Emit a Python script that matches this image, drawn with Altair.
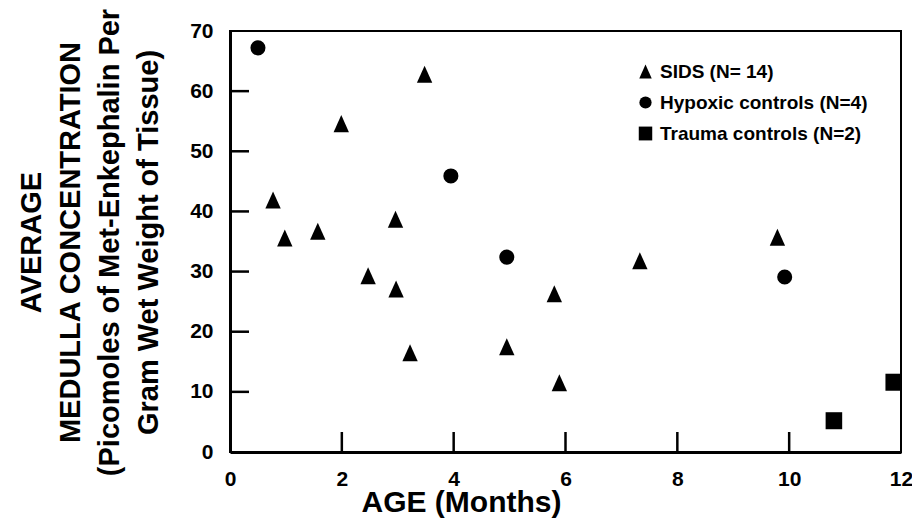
import altair as alt
import pandas as pd

# ---- data ----
sids_age = [0.77, 0.98, 1.57, 1.99, 2.47, 2.96, 2.97, 3.22, 3.48, 4.95, 5.80, 5.89, 7.33, 9.79]
sids_val = [41.9, 35.6, 36.7, 54.6, 29.3, 38.7, 27.1, 16.5, 62.8, 17.5, 26.3, 11.5, 31.8, 35.7]
hyp_age = [0.50, 3.95, 4.95, 9.92]
hyp_val = [67.2, 45.9, 32.4, 29.1]
trauma_age = [10.80, 11.87]
trauma_val = [5.2, 11.6]

groups = ["SIDS (N= 14)", "Hypoxic controls (N=4)", "Trauma controls (N=2)"]
x_ticks = [0, 2, 4, 6, 8, 10, 12]
y_ticks = [0, 10, 20, 30, 40, 50, 60, 70]
x_inner_ticks = [2, 4, 6, 8, 10]
y_inner_ticks = [10, 20, 30, 40, 50, 60]

y_title = [
    "AVERAGE",
    "MEDULLA CONCENTRATION",
    "(Picomoles of Met-Enkephalin Per",
    "Gram Wet Weight of Tissue)",
]
x_title = "AGE (Months)"

rows = []
for a, v in zip(sids_age, sids_val):
    rows.append({"age": a, "conc": v, "group": groups[0]})
for a, v in zip(hyp_age, hyp_val):
    rows.append({"age": a, "conc": v, "group": groups[1]})
for a, v in zip(trauma_age, trauma_val):
    rows.append({"age": a, "conc": v, "group": groups[2]})
df = pd.DataFrame(rows)

FONT = "Liberation Sans"
W, H = 671, 421
TRI = "M0,-1.13L-1.02,1.13L1.02,1.13Z"
SQR = "M-1.1,-1.13L1.1,-1.13L1.1,1.13L-1.1,1.13Z"

xscale = alt.Scale(domain=[0, 12], nice=False, zero=True)
yscale = alt.Scale(domain=[0, 70], nice=False, zero=True)

x_axis = alt.Axis(
    values=x_ticks, tickSize=0, labelPadding=16, labelFont=FONT, labelFontSize=21,
    labelFontWeight="bold", labelColor="black", labelFlush=False, labelOverlap=False,
    domainColor="black", domainWidth=3, grid=False,
    title=x_title, titleFont=FONT, titleFontSize=30, titleFontWeight="bold",
    titleColor="black", titleX=231, titleY=59, titleAlign="center",
    titleBaseline="alphabetic",
)
y_axis = alt.Axis(
    values=y_ticks, tickSize=0, labelPadding=17, labelFont=FONT, labelFontSize=21,
    labelFontWeight="bold", labelColor="black", labelFlush=False, labelOverlap=False,
    domainColor="black", domainWidth=3, grid=False,
    title=y_title, titleFont=FONT, titleFontSize=29, titleFontWeight="bold",
    titleColor="black", titleAngle=-90, titleX=-190, titleY=211, titleAlign="center",
    titleBaseline="alphabetic", titleLineHeight=39,
)

ytick_df = pd.DataFrame({"conc": y_inner_ticks})
xtick_df = pd.DataFrame({"age": x_inner_ticks})

yrules = alt.Chart(ytick_df).mark_rule(color="black", strokeWidth=2.5).encode(
    y=alt.Y("conc:Q", scale=yscale, axis=y_axis),
    x=alt.value(0), x2=alt.value(19),
)
xrules = alt.Chart(xtick_df).mark_rule(color="black", strokeWidth=2.5).encode(
    x=alt.X("age:Q", scale=xscale, axis=x_axis),
    y=alt.value(H), y2=alt.value(H - 20),
)

points = alt.Chart(df).mark_point(filled=True, opacity=1, color="black", strokeWidth=0, size=227).encode(
    x=alt.X("age:Q", scale=xscale, axis=x_axis),
    y=alt.Y("conc:Q", scale=yscale, axis=y_axis),
    shape=alt.Shape("group:N", scale=alt.Scale(domain=groups, range=[TRI, "circle", SQR]),
                    legend=alt.Legend(title=None, orient="none", legendX=406, legendY=31,
                                      labelFont=FONT, labelFontSize=19, labelFontWeight="bold",
                                      labelColor="black", labelLimit=0, symbolFillColor="black",
                                      symbolStrokeColor="black", symbolOpacity=1,
                                      symbolStrokeWidth=0, symbolSize=150, rowPadding=11,
                                      labelOffset=5, padding=0)),
)

chart = alt.layer(points, yrules, xrules).properties(
    width=W, height=H,
    autosize=alt.AutoSizeParams(type="none"),
    padding={"left": 222, "top": 23, "right": 11, "bottom": 70},
    background="white",
).configure_view(stroke="black", strokeWidth=2)

chart.save("out.html", embed_options={"renderer": "svg", "actions": False})
